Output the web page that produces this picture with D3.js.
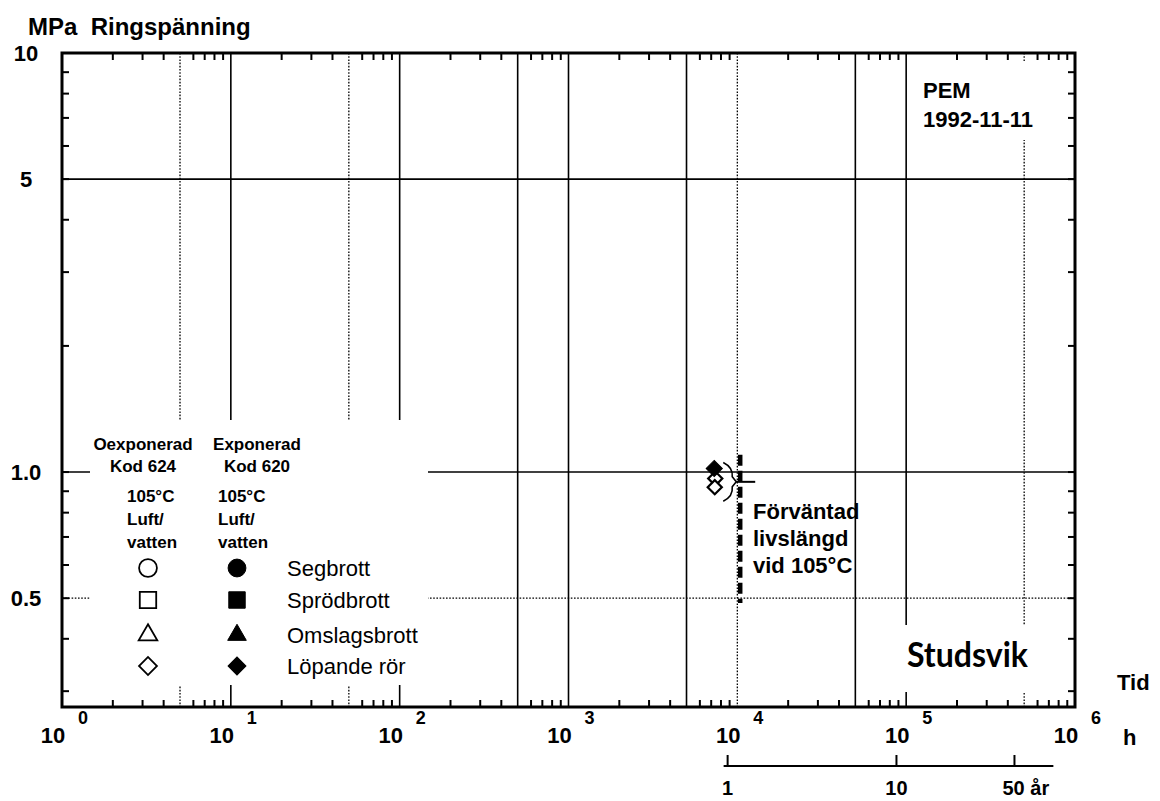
<!DOCTYPE html>
<html>
<head>
<meta charset="utf-8">
<script src="https://cdn.jsdelivr.net/npm/d3@7/dist/d3.min.js"></script>
<style>
  html, body { margin: 0; padding: 0; background: #fff; }
  svg { display: block; }
  text { font-family: "Liberation Sans", Arial, Helvetica, sans-serif; fill: #000; white-space: pre; }
  .b { font-weight: bold; }
</style>
</head>
<body>
<svg id="chart" width="1160" height="801"></svg>
<script>
// ---------------- data ----------------
const yLabelValues = [10, 5, 1, 0.5];
const yLabelTexts = ["10", "5", "1.0", "0.5"];
const yMinorTicks = [10, 9, 8, 7, 6, 5, 4, 3, 2, 1, 0.9, 0.8, 0.7, 0.6, 0.5, 0.4, 0.3];
const xDecades = [0, 1, 2, 3, 4, 5, 6];
const xMinorMult = [2, 3, 4, 6, 7, 8, 9];
// vertical grid lines (hours) and their style
const vGridValues = [5, 10, 50, 100, 500, 1000, 5000, 10000, 50000, 100000, 500000];
const vGridStyles = ["dot", "solid", "dot", "solid", "solid", "solid", "solid", "dot", "solid", "solid", "dot"];
// horizontal grid lines (MPa)
const hGridValues = [5, 1, 0.5];
const hGridStyles = ["solid", "solid", "dot"];
// secondary time axis (years)
const yearTicks = [1, 10, 50];
const yearLabels = ["1", "10", "50 år"];
const yearAxisEnd = 85;
const hoursPerYear = 8760;
// test results: exposed (Kod 620), running tubes
const exposedTime = [7300];
const exposedStress = [1.02];
// test results: unexposed (Kod 624), running tubes
const unexposedTime = [7400, 7350];
const unexposedStress = [0.965, 0.92];
// expected life time at 105 °C
const lifetimeHours = 10400;
const lifetimeStress = [1.1, 0.487];
// legend
const legendShapes = ["circle", "square", "triangle", "diamond"];
const legendLabels = ["Segbrott", "Sprödbrott", "Omslagsbrott", "Löpande rör"];

// ---------------- layout ----------------
const L = 62, R = 1075, T = 53, B = 707;
const svg = d3.select("#chart");
const x = d3.scaleLog().domain([1, 1e6]).range([L, R]);
const y = d3.scaleLog().domain([0.275, 10]).range([B, T]);

function dash(s) { return s === "dot" ? "1.6,1.6" : null; }
function sym(shape, size) {
  const t = { circle: d3.symbolCircle, square: d3.symbolSquare, triangle: d3.symbolTriangle, diamond: d3.symbolSquare }[shape];
  return d3.symbol().type(t).size(size)();
}

// grid
const grid = svg.append("g").attr("stroke", "#000").attr("fill", "none");
vGridValues.forEach((v, i) => {
  grid.append("line")
    .attr("x1", x(v)).attr("x2", x(v)).attr("y1", T).attr("y2", B)
    .attr("stroke-width", vGridStyles[i] === "dot" ? 1.3 : 1.6)
    .attr("stroke-dasharray", dash(vGridStyles[i]));
});
hGridValues.forEach((v, i) => {
  grid.append("line")
    .attr("x1", L).attr("x2", R).attr("y1", y(v)).attr("y2", y(v))
    .attr("stroke-width", hGridStyles[i] === "dot" ? 1.3 : 1.6)
    .attr("stroke-dasharray", dash(hGridStyles[i]));
});

// white boxes behind legend / labels
const wb = svg.append("g").attr("fill", "#fff");
wb.append("rect").attr("x", 90).attr("y", 420).attr("width", 338).attr("height", 265);
wb.append("rect").attr("x", 898).attr("y", 625).attr("width", 137).attr("height", 67);
wb.append("rect").attr("x", 915).attr("y", 62).attr("width", 130).attr("height", 78);

// ticks
const tk = svg.append("g").attr("stroke", "#000").attr("stroke-width", 2);
const tlen = 7;
xDecades.slice(0, -1).forEach(d => {
  xMinorMult.forEach(m => {
    const v = m * Math.pow(10, d);
    tk.append("line").attr("x1", x(v)).attr("x2", x(v)).attr("y1", B).attr("y2", B - tlen);
    tk.append("line").attr("x1", x(v)).attr("x2", x(v)).attr("y1", T).attr("y2", T + tlen);
  });
});
yMinorTicks.forEach(v => {
  tk.append("line").attr("x1", L).attr("x2", L + tlen).attr("y1", y(v)).attr("y2", y(v));
  tk.append("line").attr("x1", R).attr("x2", R - tlen).attr("y1", y(v)).attr("y2", y(v));
});

// frame
svg.append("rect").attr("x", L).attr("y", T).attr("width", R - L).attr("height", B - T)
  .attr("fill", "none").attr("stroke", "#000").attr("stroke-width", 3);

// title
svg.append("text").attr("class", "b").attr("x", 28).attr("y", 35)
  .style("font-size", "24px").text("MPa  Ringspänning");

// y labels
yLabelValues.forEach((v, i) => {
  svg.append("text").attr("class", "b").attr("x", 26).attr("y", y(v)).attr("dy", "0.36em")
    .attr("text-anchor", "middle").style("font-size", "22px").text(yLabelTexts[i]);
});

// x labels (10^n)
xDecades.forEach(d => {
  const v = Math.pow(10, d);
  svg.append("text").attr("class", "b").attr("x", x(v) - 9).attr("y", 743)
    .attr("text-anchor", "middle").style("font-size", "22px").text("10");
  svg.append("text").attr("class", "b").attr("x", x(v) + 16).attr("y", 724)
    .style("font-size", "18px").text(String(d));
});
svg.append("text").attr("class", "b").attr("x", 1117).attr("y", 690).style("font-size", "22px").text("Tid");
svg.append("text").attr("class", "b").attr("x", 1123).attr("y", 745).style("font-size", "22px").text("h");

// secondary axis in years
const ya = svg.append("g").attr("stroke", "#000").attr("stroke-width", 2);
ya.append("line").attr("x1", x(yearTicks[0] * hoursPerYear) - 4).attr("x2", x(yearAxisEnd * hoursPerYear))
  .attr("y1", 766).attr("y2", 766);
yearTicks.forEach((t, i) => {
  const xx = x(t * hoursPerYear);
  ya.append("line").attr("x1", xx).attr("x2", xx).attr("y1", 755).attr("y2", 766);
  const lab = svg.append("text").attr("class", "b").attr("y", 795).style("font-size", "20px").text(yearLabels[i]);
  if (i === yearTicks.length - 1) lab.attr("x", xx - 12);
  else lab.attr("x", xx).attr("text-anchor", "middle");
});

// PEM
svg.append("text").attr("class", "b").attr("x", 923).attr("y", 98).style("font-size", "22px").text("PEM");
svg.append("text").attr("class", "b").attr("x", 923).attr("y", 127).style("font-size", "22px").text("1992-11-11");

// Studsvik logo text
svg.append("text").attr("x", 907).attr("y", 667)
  .attr("textLength", 121).attr("lengthAdjust", "spacingAndGlyphs")
  .style("font-family", "Lato, 'Open Sans', sans-serif").style("font-weight", "bold")
  .style("font-size", "35px").text("Studsvik");

// legend
const lg = svg.append("g");
const legHead = [
  { x: 143, lines: ["Oexponerad", "Kod 624"] },
  { x: 257, lines: ["Exponerad", "Kod 620"] }
];
legHead.forEach(h => {
  h.lines.forEach((s, j) => {
    lg.append("text").attr("class", "b").attr("x", h.x).attr("y", 450 + j * 22)
      .attr("text-anchor", "middle").style("font-size", "17px").text(s);
  });
});
[127, 218].forEach(cx => {
  ["105°C", "Luft/", "vatten"].forEach((s, j) => {
    lg.append("text").attr("class", "b").attr("x", cx).attr("y", 502 + j * 23)
      .style("font-size", "17px").text(s);
  });
});
const rowY = [568, 600, 635, 666];
const legSize = { circle: 250, square: 270, triangle: 150, diamond: 160 };
legendShapes.forEach((s, i) => {
  lg.append("path").attr("d", sym(s, legSize[s]))
    .attr("transform", `translate(148,${rowY[i]})` + (s === "diamond" ? " rotate(45)" : ""))
    .attr("fill", "#fff").attr("stroke", "#000").attr("stroke-width", 1.8);
  lg.append("path").attr("d", sym(s, legSize[s]))
    .attr("transform", `translate(237,${rowY[i]})` + (s === "diamond" ? " rotate(45)" : ""))
    .attr("fill", "#000").attr("stroke", "#000").attr("stroke-width", 1);
  lg.append("text").attr("x", 287).attr("y", rowY[i]).attr("dy", "0.36em")
    .style("font-size", "22px").text(legendLabels[i]);
});

// expected life time marker
svg.append("line").attr("x1", x(lifetimeHours)).attr("x2", x(lifetimeHours))
  .attr("y1", y(lifetimeStress[0])).attr("y2", y(lifetimeStress[1]))
  .attr("stroke", "#000").attr("stroke-width", 4.5).attr("stroke-dasharray", "11,5");
const allStress = exposedStress.concat(unexposedStress);
const bTop = y(d3.max(allStress)) - 6, bBot = y(d3.min(allStress)) + 14;
const bMid = (bTop + bBot) / 2;
const bx = x(d3.max(exposedTime.concat(unexposedTime))) + 8;
svg.append("path")
  .attr("d", `M${bx},${bTop} Q${bx + 10},${bTop + 5} ${bx + 9},${bMid - 5} L${bx + 13},${bMid} L${bx + 9},${bMid + 5} Q${bx + 10},${bBot - 5} ${bx},${bBot}`)
  .attr("fill", "none").attr("stroke", "#000").attr("stroke-width", 1.6);
svg.append("line").attr("x1", bx + 13).attr("x2", x(lifetimeHours) + 15)
  .attr("y1", bMid).attr("y2", bMid).attr("stroke", "#000").attr("stroke-width", 2);

svg.append("text").attr("class", "b").attr("x", 753).attr("y", 519).style("font-size", "22px").text("Förväntad");
svg.append("text").attr("class", "b").attr("x", 753).attr("y", 546).style("font-size", "22px").text("livslängd");
svg.append("text").attr("class", "b").attr("x", 753).attr("y", 573).style("font-size", "22px").text("vid 105°C");

// data points
unexposedTime.forEach((t, i) => {
  svg.append("path").attr("d", sym("diamond", 100))
    .attr("transform", `translate(${x(t)},${y(unexposedStress[i])}) rotate(45)`)
    .attr("fill", "#fff").attr("stroke", "#000").attr("stroke-width", 2.2);
});
exposedTime.forEach((t, i) => {
  svg.append("path").attr("d", sym("diamond", 130))
    .attr("transform", `translate(${x(t)},${y(exposedStress[i])}) rotate(45)`)
    .attr("fill", "#000").attr("stroke", "#000").attr("stroke-width", 1);
});
</script>
</body>
</html>
